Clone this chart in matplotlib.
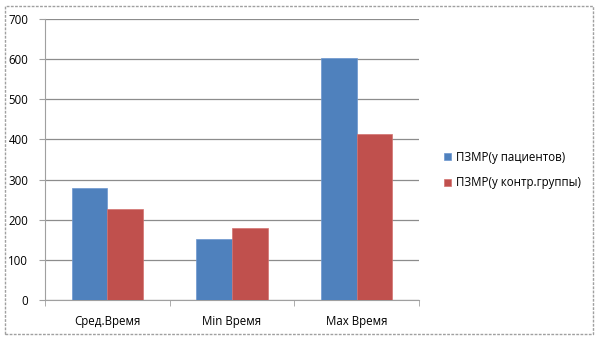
import numpy as np
import matplotlib.pyplot as plt
from matplotlib.patches import Rectangle

categories = ['Сред.Время', 'Min Время', 'Max Время']
patients = [279, 152, 603]
control = [227, 179, 413]
series_names = ['ПЗМР(у пациентов)', 'ПЗМР(у контр.группы)']

plt.rcParams['font.family'] = ['Open Sans', 'DejaVu Sans']

fig = plt.figure(figsize=(5.98, 3.40), dpi=100)
ax = fig.add_axes([45/598, 1 - 300/340, 374/598, 281/340])

x = np.arange(len(categories))
w = 1 / 3.5
b1 = ax.bar(x - w/2, patients, w, color='#4F81BD', edgecolor='#6C96CF', linewidth=0.5,
            label=series_names[0], zorder=3)
b2 = ax.bar(x + w/2, control, w, color='#C0504D', edgecolor='#D37270', linewidth=0.5,
            label=series_names[1], zorder=3)

ax.set_xlim(-0.5, 2.5)
ax.set_ylim(0, 700)
ax.set_yticks(range(0, 701, 100))
ax.yaxis.grid(True, color='#8C8C8C', linewidth=0.9, zorder=0)
ax.set_xticks(x)
ax.set_xticklabels(categories)
ax.set_xticks([-0.5, 0.5, 1.5, 2.5], minor=True)
ax.tick_params(axis='x', which='major', length=0, pad=11, labelsize=8.3)
ax.tick_params(axis='x', which='minor', length=4, color='#A0A0A0')
ax.tick_params(axis='y', length=4, color='#A0A0A0', labelsize=8.3, pad=8)
for s in ['top', 'right']:
    ax.spines[s].set_visible(False)
for s in ['left', 'bottom']:
    ax.spines[s].set_color('#A0A0A0')

fig.legend(handles=[b1, b2], loc='center left', bbox_to_anchor=(434/598, 1 - 170/340),
           frameon=False, fontsize=8.3, handlelength=0.6, handleheight=0.6,
           handletextpad=0.4, labelspacing=1.1)

fig.patches.append(Rectangle((5/598, 6/340), 588/598, 328/340, transform=fig.transFigure,
                             fill=False, edgecolor='#A0A0A0', linestyle=(0, (2, 1)),
                             linewidth=1.0))

fig.savefig('out.png', dpi=100)
